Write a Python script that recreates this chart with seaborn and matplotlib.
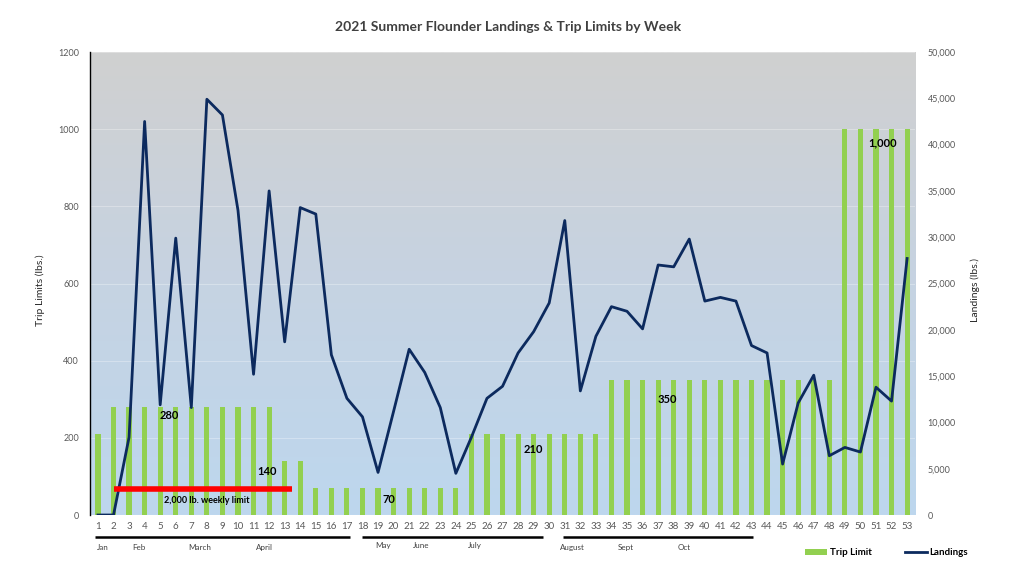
import numpy as np
import pandas as pd
import matplotlib.pyplot as plt
import seaborn as sns
from matplotlib.lines import Line2D
from matplotlib.patches import Patch
from matplotlib.colors import LinearSegmentedColormap

# data
weeks = list(range(1, 54))
trip_limits = [210, 280, 280, 280, 280, 280, 280, 280, 280, 280, 280, 280,
               140, 140, 70, 70, 70, 70, 70, 70, 70, 70, 70, 70,
               210, 210, 210, 210, 210, 210, 210, 210, 210,
               350, 350, 350, 350, 350, 350, 350, 350, 350, 350, 350, 350, 350, 350, 350,
               1000, 1000, 1000, 1000, 1000]
landings = [0, 0, 8400, 42500, 11900, 29900, 11600, 44900, 43200, 32900,
            15200, 35000, 18700, 33200, 32500, 17300, 12600, 10600, 4600, 11200,
            17900, 15400, 11600, 4500, 8400, 12600, 13900, 17500, 19800, 22900,
            31800, 13400, 19300, 22500, 22000, 20100, 27000, 26800, 29800, 23100,
            23500, 23100, 18300, 17500, 5500, 12100, 15100, 6400, 7300, 6800,
            13800, 12300, 27700]

# label annotations (week, left-axis height, text)
limit_labels = [(5.56, 259, '280'), (11.86, 114, '140'), (19.7, 39, '70'),
                (29.0, 171, '210'), (37.6, 300, '350'), (51.4, 964, '1,000')]

# red line for the 2,000 lb. weekly limit
weekly_limit_weeks = [2, 13.45]
weekly_limit_value = [68, 68]

# months under the week axis
months = ['Jan', 'Feb', 'March', 'April', 'May', 'June', 'July', 'August', 'Sept', 'Oct']
month_pos = [1.32, 3.63, 7.55, 11.73, 19.3, 21.8, 25.2, 31.5, 34.9, 38.7]
month_y = [-0.071, -0.071, -0.071, -0.071, -0.066, -0.066, -0.066, -0.071, -0.071, -0.071]
brackets = [(0.81, 17.2), (18.0, 29.6), (30.9, 43.1)]

df = pd.DataFrame({'Week': weeks, 'Trip Limit': trip_limits, 'Landings': landings})

plt.rcParams['font.family'] = ['Lato', 'DejaVu Sans']

green = '#92d050'
navy = '#0c2a5e'
gray = '#595959'

fig = plt.figure(figsize=(10.24, 5.76), dpi=100)
ax = fig.add_axes([0.0879, 0.1059, 0.8057, 0.8038])

# gradient background
cmap = LinearSegmentedColormap.from_list('bg', ['#bdd7ee', '#c6d3e2', '#d0d0d0'])
grad = np.linspace(0, 1, 256).reshape(-1, 1)
ax.imshow(grad, extent=[0, 1, 0, 1], transform=ax.transAxes, aspect='auto',
          cmap=cmap, origin='lower', zorder=0)

sns.barplot(data=df, x='Week', y='Trip Limit', native_scale=True, color=green,
            width=0.33, saturation=1, errorbar=None, ax=ax, zorder=2)

ax.set_xlim(0.49, 53.51)
ax.set_ylim(0, 1200)
ax.set_yticks(range(0, 1201, 200))
ax.set_xticks(weeks)
ax.set_xticklabels([str(w) for w in weeks])
ax.yaxis.grid(True, color='white', alpha=0.3, lw=0.8)
ax.set_axisbelow(True)
ax.set_xlabel('')
ax.set_ylabel('')
for s in ['top', 'right', 'bottom']:
    ax.spines[s].set_visible(False)
ax.spines['left'].set_color('black')
ax.spines['left'].set_linewidth(1)
ax.tick_params(axis='y', length=0, pad=8, labelsize=6.5, labelcolor=gray)
ax.tick_params(axis='x', length=0, pad=5, labelsize=7, labelcolor=gray)

ax2 = ax.twinx()
sns.lineplot(data=df, x='Week', y='Landings', color=navy, lw=2, ax=ax2, zorder=3)
ax2.set_ylim(0, 50000)
ax2.set_xlim(0.49, 53.51)
ax2.set_yticks(range(0, 50001, 5000))
ax2.set_yticklabels([f'{v:,}' for v in range(0, 50001, 5000)])
ax2.set_ylabel('')
for s in ax2.spines.values():
    s.set_visible(False)
ax2.tick_params(axis='y', length=0, pad=9, labelsize=6.5, labelcolor=gray)

# annotations (drawn on ax2 layer using left-axis coordinates)
to_left = ax.transData
for wk, val, txt in limit_labels:
    ax2.text(wk, val, txt, transform=to_left, ha='center', va='center',
             fontsize=8, fontweight='bold', color='black', zorder=5)
ax2.plot(weekly_limit_weeks, weekly_limit_value, transform=to_left,
         color='#ff0000', lw=4, solid_capstyle='butt', zorder=4)
ax2.text(8.0, 50, '2,000 lb. weekly limit', transform=to_left, ha='center',
         va='top', fontsize=6.5, fontweight='bold', color='black', zorder=5)

# months and brackets below axis
xform = ax.get_xaxis_transform()
for m, p, yy in zip(months, month_pos, month_y):
    ax.text(p, yy, m, transform=xform, ha='center', va='center', fontsize=5.8,
            color='#404040', clip_on=False)
for a, b in brackets:
    ax.plot([a, b], [-0.0475, -0.0475], transform=xform, color='black', lw=1.8,
            clip_on=False, solid_capstyle='butt')

# titles and labels
fig.text(0.496, 0.953, '2021 Summer Flounder Landings & Trip Limits by Week',
         ha='center', va='center', fontsize=10, fontweight='bold', color='#404040')
fig.text(0.039, 0.497, 'Trip Limits (lbs.)', rotation=90, ha='center',
         va='center', fontsize=7.5, color='#262626')
fig.text(0.952, 0.497, 'Landings (lbs.)', rotation=90, ha='center',
         va='center', fontsize=7.5, color='#262626')

handles = [Patch(facecolor=green, edgecolor='none'),
           Line2D([0], [0], color=navy, lw=2)]
fig.legend(handles, ['Trip Limit', 'Landings'], loc='center',
           bbox_to_anchor=(0.866, 0.04), ncol=2, frameon=False,
           prop={'size': 7, 'weight': 'bold'}, columnspacing=3.5,
           handlelength=2.2, handletextpad=0.3, handleheight=0.6)

fig.savefig('out.png', dpi=100)
